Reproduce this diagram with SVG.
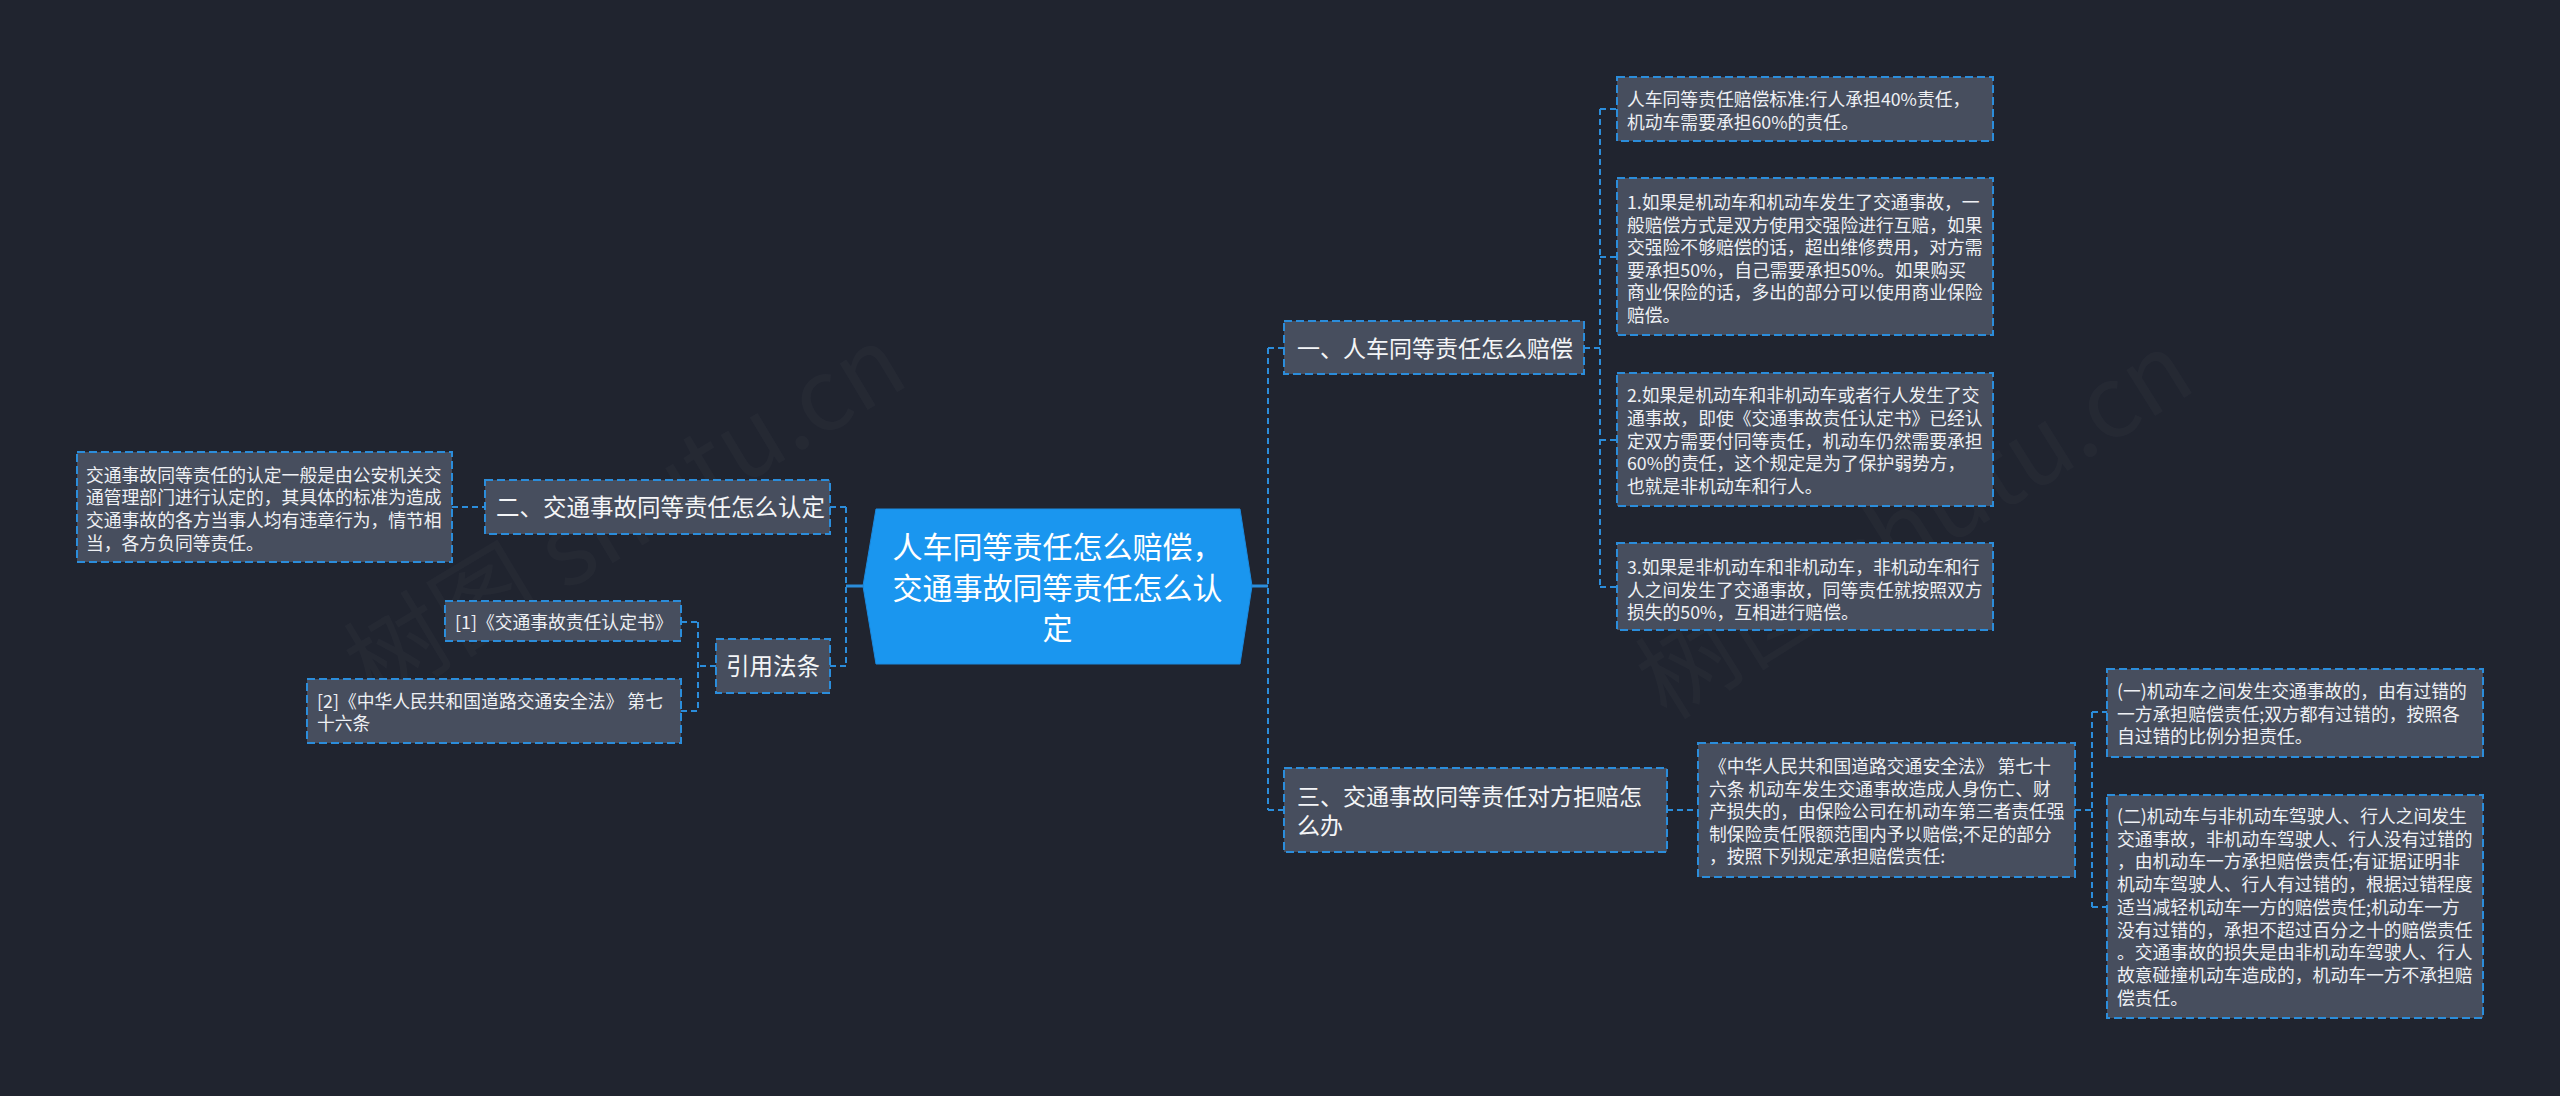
<svg xmlns="http://www.w3.org/2000/svg" width="2560" height="1096" viewBox="0 0 2560 1096">
<style>
  .bg { fill: #20242f; }
  .box { fill: #474e5e; stroke: #2b8ddb; stroke-width: 2; stroke-dasharray: 8 4; }
  .center { fill: #1a96ef; stroke: #1a8ae0; stroke-width: 1; }
  .conn { fill: none; stroke: #2b8ddb; stroke-width: 2; stroke-dasharray: 6 4; }
  .stub { fill: none; stroke: #2b8ddb; stroke-width: 3; }
  text { font-family: "Noto Sans CJK SC", "Noto Sans", "Liberation Sans", sans-serif; }
  .t { fill: #eef0f4; font-size: 17.8px; }
  .n { fill: #f4f5f7; font-size: 23px; }
  .c { fill: #ffffff; font-size: 30px; text-anchor: middle; }
  .wm { fill: #ffffff; fill-opacity: 0.022; font-size: 100px; text-anchor: middle; }
</style>
<rect class="bg" x="0" y="0" width="2560" height="1096"/>

<g id="watermarks">
  <text class="wm" transform="translate(643 545) rotate(-31)">树图 shutu.cn</text>
  <text class="wm" transform="translate(1933 555) rotate(-32)">树图 shutu.cn</text>
</g>

<g id="connectors">
  <!-- center to left trunk -->
  <path class="stub" d="M863 586 H846"/>
  <path class="conn" d="M846 507 V666"/>
  <path class="conn" d="M830 507 H846"/>
  <path class="conn" d="M830 666 H846"/>
  <!-- 二 to left box -->
  <path class="conn" d="M452 507 H485"/>
  <!-- 引用法条 children -->
  <path class="conn" d="M716 666 H698"/>
  <path class="conn" d="M698 622 V711"/>
  <path class="conn" d="M681 622 H698"/>
  <path class="conn" d="M681 711 H698"/>
  <!-- center to right trunk -->
  <path class="stub" d="M1252 586 H1268"/>
  <path class="conn" d="M1268 348 V810"/>
  <path class="conn" d="M1268 348 H1284"/>
  <path class="conn" d="M1268 810 H1284"/>
  <!-- 一 children -->
  <path class="conn" d="M1584 348 H1600"/>
  <path class="conn" d="M1600 109 V587"/>
  <path class="conn" d="M1600 109 H1617"/>
  <path class="conn" d="M1600 257 H1617"/>
  <path class="conn" d="M1600 440 H1617"/>
  <path class="conn" d="M1600 587 H1617"/>
  <!-- 三 child -->
  <path class="conn" d="M1667 810 H1698"/>
  <!-- law box children -->
  <path class="conn" d="M2075 810 H2092"/>
  <path class="conn" d="M2092 712 V907"/>
  <path class="conn" d="M2092 712 H2107"/>
  <path class="conn" d="M2092 907 H2107"/>
</g>

<g id="node-center">
  <polygon class="center" points="876,509 1240,509 1252,586 1240,664 876,664 863,586"/>
  <text class="c" x="1057.5" y="557.5">人车同等责任怎么赔偿，</text>
  <text class="c" x="1057.5" y="598.5">交通事故同等责任怎么认</text>
  <text class="c" x="1057.5" y="638.5">定</text>
</g>

<g id="node-er">
  <rect class="box" x="485" y="480" width="345" height="54"/>
  <text class="n" x="496" y="516" style="font-size:23.5px">二、交通事故同等责任怎么认定</text>
</g>

<g id="node-er-detail">
  <rect class="box" x="77" y="452" width="375" height="110"/>
  <text class="t" x="86" y="481.5">交通事故同等责任的认定一般是由公安机关交</text>
  <text class="t" x="86" y="504.2">通管理部门进行认定的，其具体的标准为造成</text>
  <text class="t" x="86" y="526.9">交通事故的各方当事人均有违章行为，情节相</text>
  <text class="t" x="86" y="549.6">当，各方负同等责任。</text>
</g>

<g id="node-yinyong">
  <rect class="box" x="716" y="639" width="114" height="54"/>
  <text class="n" x="773" y="675" style="font-size:23.5px;text-anchor:middle">引用法条</text>
</g>

<g id="node-ref1">
  <rect class="box" x="445" y="601" width="236" height="40"/>
  <text class="t" x="455" y="629">[1]《交通事故责任认定书》</text>
</g>

<g id="node-ref2">
  <rect class="box" x="307" y="679" width="374" height="64"/>
  <text class="t" x="317" y="707.5">[2]《中华人民共和国道路交通安全法》 第七</text>
  <text class="t" x="317" y="730">十六条</text>
</g>

<g id="node-yi">
  <rect class="box" x="1284" y="321" width="300" height="53"/>
  <text class="n" x="1297" y="356.7">一、人车同等责任怎么赔偿</text>
</g>

<g id="node-yi-1">
  <rect class="box" x="1617" y="77" width="376" height="64"/>
  <text class="t" x="1627" y="105.5">人车同等责任赔偿标准:行人承担40%责任，</text>
  <text class="t" x="1627" y="128.5">机动车需要承担60%的责任。</text>
</g>

<g id="node-yi-2">
  <rect class="box" x="1617" y="178" width="376" height="157"/>
  <text class="t" x="1627" y="209">1.如果是机动车和机动车发生了交通事故，一</text>
  <text class="t" x="1627" y="231.5">般赔偿方式是双方使用交强险进行互赔，如果</text>
  <text class="t" x="1627" y="254">交强险不够赔偿的话，超出维修费用，对方需</text>
  <text class="t" x="1627" y="276.5">要承担50%，自己需要承担50%。如果购买</text>
  <text class="t" x="1627" y="299">商业保险的话，多出的部分可以使用商业保险</text>
  <text class="t" x="1627" y="321.5">赔偿。</text>
</g>

<g id="node-yi-3">
  <rect class="box" x="1617" y="373" width="376" height="133"/>
  <text class="t" x="1627" y="402">2.如果是机动车和非机动车或者行人发生了交</text>
  <text class="t" x="1627" y="425">通事故，即使《交通事故责任认定书》已经认</text>
  <text class="t" x="1627" y="447.5">定双方需要付同等责任，机动车仍然需要承担</text>
  <text class="t" x="1627" y="470">60%的责任，这个规定是为了保护弱势方，</text>
  <text class="t" x="1627" y="493">也就是非机动车和行人。</text>
</g>

<g id="node-yi-4">
  <rect class="box" x="1617" y="543" width="376" height="87"/>
  <text class="t" x="1627" y="574">3.如果是非机动车和非机动车，非机动车和行</text>
  <text class="t" x="1627" y="596.5">人之间发生了交通事故，同等责任就按照双方</text>
  <text class="t" x="1627" y="619">损失的50%，互相进行赔偿。</text>
</g>

<g id="node-san">
  <rect class="box" x="1284" y="768" width="383" height="84"/>
  <text class="n" x="1297" y="804.7">三、交通事故同等责任对方拒赔怎</text>
  <text class="n" x="1297" y="833.7">么办</text>
</g>

<g id="node-law">
  <rect class="box" x="1698" y="743" width="377" height="134"/>
  <text class="t" x="1709" y="773">《中华人民共和国道路交通安全法》 第七十</text>
  <text class="t" x="1709" y="795.5">六条 机动车发生交通事故造成人身伤亡、财</text>
  <text class="t" x="1709" y="818">产损失的，由保险公司在机动车第三者责任强</text>
  <text class="t" x="1709" y="840.5">制保险责任限额范围内予以赔偿;不足的部分</text>
  <text class="t" x="1709" y="863">，按照下列规定承担赔偿责任:</text>
</g>

<g id="node-law-1">
  <rect class="box" x="2107" y="669" width="376" height="88"/>
  <text class="t" x="2117" y="698">(一)机动车之间发生交通事故的，由有过错的</text>
  <text class="t" x="2117" y="720.5">一方承担赔偿责任;双方都有过错的，按照各</text>
  <text class="t" x="2117" y="743">自过错的比例分担责任。</text>
</g>

<g id="node-law-2">
  <rect class="box" x="2107" y="795" width="376" height="223"/>
  <text class="t" x="2117" y="823">(二)机动车与非机动车驾驶人、行人之间发生</text>
  <text class="t" x="2117" y="845.7">交通事故，非机动车驾驶人、行人没有过错的</text>
  <text class="t" x="2117" y="868.4">，由机动车一方承担赔偿责任;有证据证明非</text>
  <text class="t" x="2117" y="891">机动车驾驶人、行人有过错的，根据过错程度</text>
  <text class="t" x="2117" y="913.8">适当减轻机动车一方的赔偿责任;机动车一方</text>
  <text class="t" x="2117" y="936.5">没有过错的，承担不超过百分之十的赔偿责任</text>
  <text class="t" x="2117" y="959.2">。交通事故的损失是由非机动车驾驶人、行人</text>
  <text class="t" x="2117" y="982">故意碰撞机动车造成的，机动车一方不承担赔</text>
  <text class="t" x="2117" y="1004.6">偿责任。</text>
</g>
</svg>
